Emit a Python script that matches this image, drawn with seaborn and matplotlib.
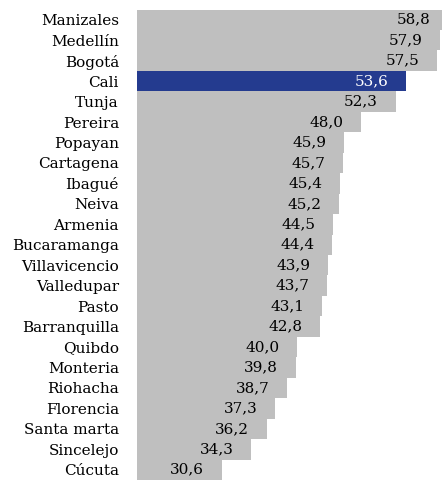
import pandas as pd
import matplotlib.pyplot as plt
import seaborn as sns

# ========================
# Data
# ========================
cities = ['Manizales', 'Medellín', 'Bogotá', 'Cali', 'Tunja', 'Pereira', 'Popayan',
          'Cartagena', 'Ibagué', 'Neiva', 'Armenia', 'Bucaramanga', 'Villavicencio',
          'Valledupar', 'Pasto', 'Barranquilla', 'Quibdo', 'Monteria', 'Riohacha',
          'Florencia', 'Santa marta', 'Sincelejo', 'Cúcuta']
values = [58.8, 57.9, 57.5, 53.6, 52.3, 48.0, 45.9, 45.7, 45.4, 45.2, 44.5, 44.4,
          43.9, 43.7, 43.1, 42.8, 40.0, 39.8, 38.7, 37.3, 36.2, 34.3, 30.6]
highlight = 'Cali'

df = pd.DataFrame({'city': cities, 'value': values})

gray = '#BFBFBF'
blue = '#243B8F'
palette = {c: (blue if c == highlight else gray) for c in cities}

# ========================
# Plot
# ========================
sns.set_style('white')
plt.rcParams['font.family'] = ['DejaVu Serif']

fig = plt.figure(figsize=(4.42, 4.8), dpi=100)
ax = fig.add_axes([137 / 442, 0.0, 1 - 137 / 442, 1 - 9.5 / 480])

sns.barplot(data=df, y='city', x='value', hue='city', palette=palette,
            orient='h', width=1.0, legend=False, saturation=1,
            linewidth=0, edgecolor='none', ax=ax)

ax.set_xlim(20, 58.1)
ax.set_ylim(len(cities) - 0.5, -0.5)

for i, (c, v) in enumerate(zip(cities, values)):
    txt = f'{v:.1f}'.replace('.', ',')
    ax.annotate(txt, xy=(v, i), xytext=(-12.6, 0), textcoords='offset points',
                ha='right', va='center', fontsize=11,
                color='white' if c == highlight else 'black',
                annotation_clip=False)

ax.set_xlabel('')
ax.set_ylabel('')
ax.set_xticks([])
ax.tick_params(axis='y', length=0, pad=13, labelsize=11, labelcolor='black')
for s in ax.spines.values():
    s.set_visible(False)

fig.savefig('out.png', dpi=100)
